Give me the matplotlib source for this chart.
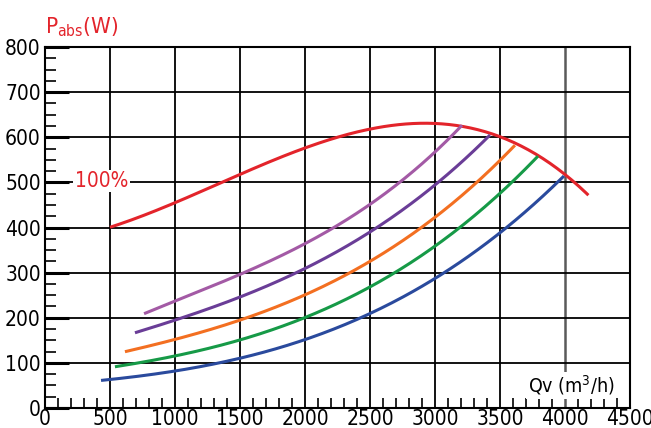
import numpy as np
import matplotlib
matplotlib.use("Agg")
import matplotlib.pyplot as plt
from matplotlib.ticker import MultipleLocator

plt.rcParams['font.family'] = ['DejaVu Sans']
plt.rcParams['font.stretch'] = 'condensed'
plt.rcParams['mathtext.fontset'] = 'custom'
plt.rcParams['mathtext.rm'] = 'DejaVu Sans:stretch=condensed'

# curves: (Qv m3/h, Pabs W)
red_q = [500, 1000, 1500, 2000, 2500, 2800, 3000, 3200, 3500, 3800, 4000, 4180]
red_p = [400, 455, 520, 575, 615, 632, 632, 622, 602, 560, 518, 470]

lpurple_q = [762, 1000, 1500, 2000, 2500, 2730, 3000, 3208]
lpurple_p = [207, 240, 296, 362, 451, 502, 569, 625]

dpurple_q = [692, 1000, 1500, 2000, 2500, 3000, 3423]
dpurple_p = [164, 200, 244, 307, 391, 496, 604]

orange_q = [615, 1000, 1500, 2000, 2500, 3000, 3500, 3615]
orange_p = [124, 153, 196, 249, 324, 424, 551, 580]

green_q = [538, 1000, 1500, 2000, 2500, 3000, 3500, 3792]
green_p = [91, 116, 151, 200, 269, 356, 480, 556]

blue_q = [431, 1000, 1500, 2000, 2500, 3000, 3500, 3992]
blue_p = [62, 80, 111, 151, 211, 289, 384, 516]

curves = [
    (red_q, red_p, '#e3242b'),
    (lpurple_q, lpurple_p, '#a35aa5'),
    (dpurple_q, dpurple_p, '#6a3d97'),
    (orange_q, orange_p, '#f36f21'),
    (green_q, green_p, '#169a47'),
    (blue_q, blue_p, '#2a4a9d'),
]

fig = plt.figure(figsize=(6.51, 4.28), dpi=100)
ax = fig.add_axes([45/651, 20/428, 585/651, 361/428])

for q, p, c in curves:
    # smooth through the read points
    qq = np.linspace(q[0], q[-1], 200)
    pp = np.polyval(np.polyfit(q, p, 3), qq)
    ax.plot(qq, pp, color=c, lw=2.2, solid_capstyle='butt', zorder=3)

ax.set_xlim(0, 4500)
ax.set_ylim(0, 800)
ax.xaxis.set_major_locator(MultipleLocator(500))
ax.xaxis.set_minor_locator(MultipleLocator(100))
ax.yaxis.set_major_locator(MultipleLocator(100))
ax.yaxis.set_minor_locator(MultipleLocator(25))

for x in range(500, 4500, 500):
    ax.axvline(x, color='#5a5a5a' if x == 4000 else 'black',
               lw=1.8 if x == 4000 else 1.3, zorder=1)
for y in range(100, 800, 100):
    ax.axhline(y, color='black', lw=1.3, zorder=1)

ax.tick_params(axis='both', which='both', direction='in', labelsize=15)
ax.tick_params(axis='y', which='major', length=17, width=2.2, pad=3)
ax.tick_params(axis='y', which='minor', length=8, width=1.2)
ax.tick_params(axis='x', which='major', length=0, pad=1)
ax.tick_params(axis='x', which='minor', length=7, width=1.2)
for s in ax.spines.values():
    s.set_linewidth(1.5)

ax.text(0, 818, r'$\mathrm{P_{abs}}$(W)', color='#e3242b', fontsize=16,
        ha='left', va='bottom', clip_on=False)
ax.text(230, 503, '100%', color='#e3242b', fontsize=15, ha='left', va='center',
        bbox=dict(facecolor='white', edgecolor='none', pad=1), zorder=4)
ax.text(4380, 50, 'Qv (m$^{3}$/h)', color='black', fontsize=14, ha='right',
        va='center', bbox=dict(facecolor='white', edgecolor='none', pad=1), zorder=4)

fig.savefig('out.png', dpi=100)
